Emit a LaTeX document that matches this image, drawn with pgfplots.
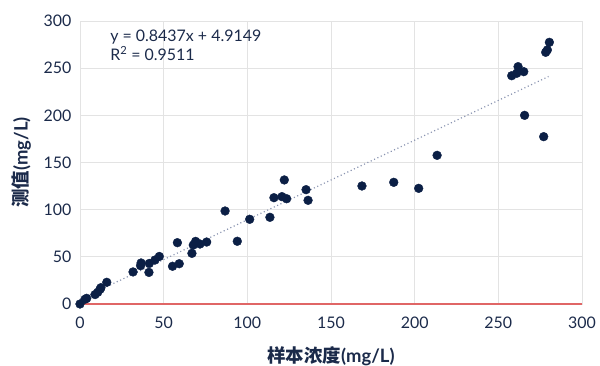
\documentclass[border=0pt]{standalone}
\usepackage{pgfplots}
\pgfplotsset{compat=1.18}
\usepackage{fontspec}
\setmainfont{Lato}
\newfontfamily\cjk{Noto Sans CJK SC}
\definecolor{navy}{HTML}{0B1F45}
\definecolor{txt}{HTML}{1B2A4A}
\definecolor{gridc}{HTML}{E3E3E3}
\definecolor{redl}{HTML}{E06666}
\definecolor{trend}{HTML}{8A94B0}
\begin{document}
\begin{tikzpicture}
\path[use as bounding box] (-80bp,-62bp) rectangle (520bp,304bp);
\begin{axis}[
  at={(0,0)}, anchor=south west,
  scale only axis, width=502bp, height=283bp,
  xmin=0, xmax=300, ymin=0, ymax=300,
  xtick={0,50,...,300}, ytick={0,50,...,300},
  grid=major, grid style={gridc, line width=0.8bp},
  axis line style={gridc, line width=0.8bp},
  major tick length=0pt,
  tick label style={font=\fontsize{16}{18}\selectfont, text=txt},
  /pgf/number format/assume math mode=true,
  xticklabel style={yshift=-9bp},
  yticklabel style={xshift=-5bp},
  xlabel={\bfseries{\cjk\bfseries 样本浓度}(mg/L)},
  ylabel={\bfseries{\cjk\bfseries 测值}(mg/L)},
  label style={font=\fontsize{18.5}{20}\selectfont, text=txt},
  xlabel style={yshift=-12bp},
  ylabel style={yshift=6bp},
  clip=false,
]
\addplot[redl, line width=1.3bp] coordinates {(0,0) (300,0)};
\addplot[trend, line width=1.2bp, dash pattern=on 1.1bp off 2.6bp] coordinates {(0,4.9149) (280,241.15)};
\addplot[only marks, mark=*, mark size=4.4bp, mark options={fill=navy, draw=navy}] coordinates {
(0,0) (3,5) (4,6) (9,10) (10.6,12.4) (12,15.6) (12.5,17.3) (16,23)
(31.7,34) (36.2,40.6) (36.5,43.5) (41.4,43) (41.2,33.5) (44.8,46.6) (47.4,50.4)
(55.3,40) (58.2,65) (59.3,42.7) (66.9,53.7) (67.7,62.5) (69.1,66.4) (71.7,63.6)
(75.7,65.7) (86.7,98.6) (94,66.5) (101.4,89.8) (113.5,91.9) (115.9,112.7)
(120.7,113.8) (123.5,111.6) (122.1,131.5) (135.1,121.2) (136.3,109.9)
(168.5,125.1) (187.5,129) (202.4,122.6) (213.4,157.6)
(258,242) (261.8,251.6) (261,244.6) (265.2,246.3) (278.3,266.8) (279.3,269.3)
(280.5,277.4) (265.7,200) (277.1,177.4)
};
\node[anchor=north west, align=left, text=txt, font=\fontsize{16}{17}\selectfont, inner sep=0pt] at (axis cs:18,291) {y = 0.8437x + 4.9149\\[1bp]R\textsuperscript{2} = 0.9511};
\end{axis}
\end{tikzpicture}
\end{document}
